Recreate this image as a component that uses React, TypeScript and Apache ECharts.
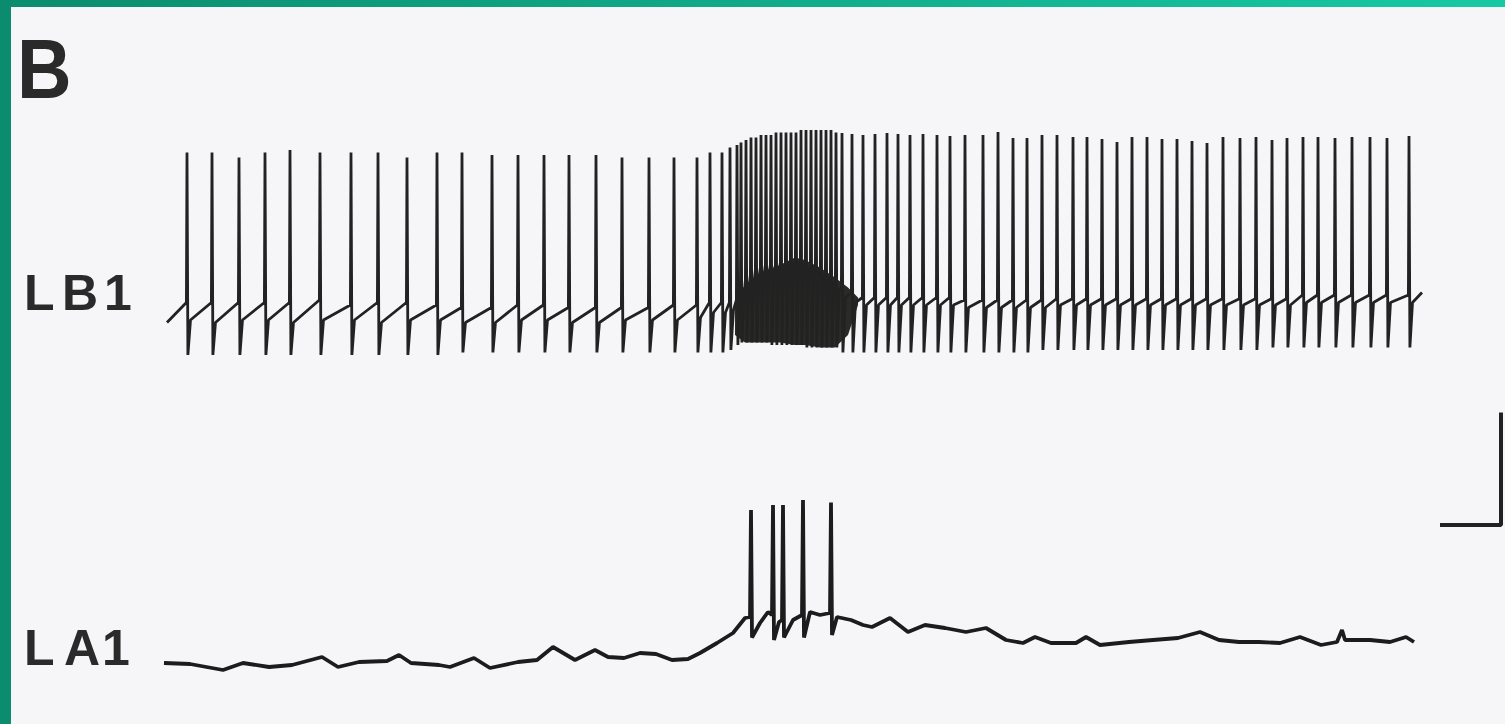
import React, { useEffect, useRef } from "react";
import * as echarts from "echarts";

// ---------------- LB1 trace (time units, mV) ----------------
const lb1SpikeTimes = [
  187, 212, 239, 265, 290, 320, 351, 378, 407, 437, 462, 492, 518, 544, 569, 596, 622, 649, 674, 697,
  710, 722, 730, 737,
  741, 746, 751, 756, 761, 766, 771, 776, 781, 786, 791, 796, 801, 806, 811, 816, 821, 826, 831, 836,
  842, 852, 863, 875, 887, 898, 910, 923, 937, 950, 965, 983, 998, 1013, 1027, 1042, 1057, 1073, 1087, 1102,
  1117, 1132, 1147, 1162, 1177, 1192, 1207, 1223, 1240, 1256, 1272, 1287, 1303, 1318, 1335, 1352, 1370, 1387, 1409,
];
const lb1PeakMv = [
  17, 17, 15, 17, 18, 17, 17, 17, 15, 17, 17, 16, 16, 16, 16, 16, 15, 15, 15, 15,
  17, 17, 19, 20,
  21, 22, 23, 23, 24, 24, 24, 25, 25, 25, 25, 25, 26, 26, 26, 26, 26, 26, 26, 25,
  24.8, 24.4, 24, 24.4, 24.8, 24.4, 24, 24.4, 24, 23.6, 24, 24, 25.2, 22.8, 22.8, 24, 24, 23.2, 23.2, 22.4,
  21.2, 23.2, 23.2, 22.4, 22.4, 21.6, 20.8, 23.2, 22.8, 23.2, 22, 22.8, 23.2, 23.2, 22.8, 23.2, 23.2, 22.8, 23.6,
];
const lb1TroughMv = [
  -64, -64, -64, -64, -64, -64, -64, -64, -64, -64, -63, -63, -63, -63, -63, -63, -63, -63, -63, -63,
  -63, -63, -62, -60,
  -59, -59, -59, -59, -59, -59, -60, -60, -60, -60, -60, -60, -60, -61, -61, -61, -61, -61, -61, -61,
  -63, -63, -63, -63, -63, -63, -63, -63, -63, -63, -63, -63, -63, -63, -63, -62, -62, -62, -62, -62,
  -62, -62, -62, -62, -62, -62, -62, -62, -62, -62, -61, -61, -61, -61, -61, -61, -61, -61, -61,
];
const lb1ThresholdMv = [
  -43, -43, -43, -43, -43, -42, -44, -43, -43, -44, -45, -45, -44, -44, -45, -45, -45, -45, -44, -44,
  -43, -43, -43, -42,
  -38, -34, -32, -30, -29, -28, -28, -28, -27, -27, -26, -26, -26, -27, -28, -28, -29, -31, -32, -34,
  -37, -39, -41, -41, -41, -41, -41, -41, -41, -41, -42, -42, -42, -42, -42, -42, -41.5, -41.5, -41.5, -41.5,
  -41.5, -41.5, -41.5, -41.5, -41.5, -41.5, -41.5, -41.5, -41.5, -41.5, -41.5, -41.5, -40, -40, -40, -40, -40, -40, -40,
];
const lb1ResetMv = [
  -50, -51, -50, -50, -51, -50, -50, -51, -50, -50, -51, -51, -50, -50, -51, -51, -50, -50, -50, -49,
  -47, -47, -46, -44,
  -42, -38, -36, -34, -33, -32, -32, -32, -31, -31, -30, -30, -30, -31, -32, -32, -33, -35, -36, -38,
  -41, -43, -44, -44, -44, -44, -44, -44, -44, -44, -45, -45, -45, -45, -45, -45, -44, -44, -44, -44,
  -44, -44, -44, -44, -44, -44, -44, -44, -44, -44, -44, -44, -43, -43, -43, -43, -43, -43, -43,
];
const lb1Start = [167, -51];
const lb1End = [1422, -39];

// dense burst envelope in LB1
const burstTimes = [735, 745, 760, 780, 795, 805, 820, 835, 848, 858];
const burstUpperMv = [-42, -36, -31, -28, -25, -26, -29, -33, -37, -41];
const burstLowerMv = [-56, -59, -59, -59, -60, -60, -61, -61, -56, -44];

// ---------------- LA1 trace ----------------
const la1Times = [
  164, 190, 223, 243, 269, 292, 322, 338, 359, 387, 399, 411, 439, 450, 474, 490, 518, 537, 553, 575,
  595, 608, 624, 640, 656, 672, 688, 700, 717, 733, 745, 750, 760, 768, 772, 779, 782, 793, 802, 810,
  820, 830, 837, 851, 863, 872, 890, 908, 925, 945, 966, 986, 1006, 1023, 1035, 1051, 1076, 1086, 1100, 1129,
  1153, 1178, 1200, 1219, 1239, 1259, 1280, 1300, 1321, 1337, 1342, 1345, 1370, 1390, 1406, 1414,
];
const la1Mv = [
  -65.2, -65.6, -68, -65.2, -66.8, -66, -62.8, -66.8, -64.8, -64.4, -62, -65.2, -66, -66.8, -63.2, -67.2, -64.8, -64, -58.8, -64,
  -60, -62.8, -63.2, -61.2, -61.6, -64, -63.6, -61.2, -57.2, -53.2, -47.2, -46.8, -49.2, -44.8, -46, -48.8, -48, -48, -46, -44.8,
  -46, -45.2, -46.8, -48, -50, -50.8, -47.2, -52.8, -50, -51.2, -52.8, -51.2, -56, -57.2, -54.8, -57.2, -57.2, -54.8, -58, -56.8,
  -56, -55.2, -52.8, -56, -56.8, -56.8, -57.2, -54.8, -58, -56.8, -52, -56, -56, -56.8, -54.8, -56.8,
];
const la1SpikeTimes = [751, 773, 783, 803, 831];
const la1SpikePeakMv = [-4, -2, -2, 0, -1];
const la1SpikeTroughMv = [-55, -56, -55, -55, -54];

// calibration bar (drawn in LA1 coordinates)
const scaleBarTimes = [1440, 1501, 1501];
const scaleBarMv = [-10, -10, 35];

const INK = "#222222";

function buildLb1(): number[][] {
  const pts: number[][] = [lb1Start];
  const n = lb1SpikeTimes.length;
  for (let i = 0; i < n; i++) {
    const t = lb1SpikeTimes[i];
    const next = i + 1 < n ? lb1SpikeTimes[i + 1] : lb1End[0];
    pts.push([t - 0.6, lb1ThresholdMv[i]]);
    pts.push([t, lb1PeakMv[i]]);
    pts.push([t + 0.9, lb1TroughMv[i]]);
    pts.push([t + Math.min(3.5, (next - t) * 0.55), lb1ResetMv[i]]);
  }
  pts.push(lb1End);
  return pts;
}

function buildLa1(): number[][] {
  const pts: number[][] = la1Times.map((t, i) => [t, la1Mv[i]]);
  la1SpikeTimes.forEach((t, i) => {
    pts.push([t, la1SpikePeakMv[i]]);
    pts.push([t + 1, la1SpikeTroughMv[i]]);
  });
  pts.sort((a, b) => a[0] - b[0]);
  return pts;
}

export default function App() {
  const ref = useRef<HTMLDivElement>(null);

  useEffect(() => {
    if (!ref.current) return;
    const chart = echarts.init(ref.current, undefined, { renderer: "svg" });
    const font = "'Liberation Sans', Arial, sans-serif";
    const label = (text: string, x: number, y: number, size: number, scaleX = 1) => ({
      type: "text",
      x,
      y,
      scaleX,
      style: {
        text,
        fill: "#2a2a2a",
        font: `bold ${size}px ${font}`,
        verticalAlign: "middle",
        align: "left",
      },
    });
    chart.setOption({
      animation: false,
      backgroundColor: "#f6f6f8",
      grid: [
        { left: 0, top: 120, width: 1505, height: 250 },
        { left: 0, top: 400, width: 1505, height: 300 },
      ],
      xAxis: [
        { type: "value", gridIndex: 0, min: 0, max: 1505, show: false },
        { type: "value", gridIndex: 1, min: 0, max: 1505, show: false },
      ],
      yAxis: [
        { type: "value", gridIndex: 0, min: -70, max: 30, show: false },
        { type: "value", gridIndex: 1, min: -80, max: 40, show: false },
      ],
      series: [
        {
          name: "LB1 burst",
          type: "custom",
          xAxisIndex: 0,
          yAxisIndex: 0,
          data: burstTimes.map((t, i) => [t, burstUpperMv[i], burstLowerMv[i]]),
          encode: { x: 0, y: [1, 2] },
          renderItem: (params: any, api: any) => {
            if (params.dataIndex !== 0) return null;
            const pts: number[][] = [];
            for (let i = 0; i < burstTimes.length; i++) pts.push(api.coord([burstTimes[i], burstUpperMv[i]]));
            for (let i = burstTimes.length - 1; i >= 0; i--) pts.push(api.coord([burstTimes[i], burstLowerMv[i]]));
            return { type: "polygon", shape: { points: pts }, style: { fill: "#2a2a26" } };
          },
          z: 1,
        },
        {
          name: "LB1",
          type: "line",
          xAxisIndex: 0,
          yAxisIndex: 0,
          data: buildLb1(),
          showSymbol: false,
          lineStyle: { color: INK, width: 2.8 },
          z: 2,
        },
        {
          name: "LA1",
          type: "line",
          xAxisIndex: 1,
          yAxisIndex: 1,
          data: buildLa1(),
          showSymbol: false,
          lineStyle: { color: "#1c1c1c", width: 3.8 },
          z: 2,
        },
        {
          name: "scale",
          type: "line",
          xAxisIndex: 1,
          yAxisIndex: 1,
          data: scaleBarTimes.map((t, i) => [t, scaleBarMv[i]]),
          showSymbol: false,
          lineStyle: { color: INK, width: 4 },
          z: 2,
        },
      ],
      graphic: [
        { type: "rect", shape: { x: 0, y: 0, width: 11, height: 724 }, style: { fill: "#0b8c6e" } },
        {
          type: "rect",
          shape: { x: 0, y: 0, width: 1505, height: 7 },
          style: {
            fill: new echarts.graphic.LinearGradient(0, 0, 1, 0, [
              { offset: 0, color: "#0b8c6e" },
              { offset: 1, color: "#17c9a3" },
            ]),
          },
        },
        label("B", 17, 69, 84, 0.9),
        label("L", 24, 293, 50),
        label("B", 62, 293, 50),
        label("1", 104, 293, 50),
        label("L", 24, 648, 50),
        label("A", 64, 648, 50),
        label("1", 102, 648, 50),
      ],
    });
    return () => chart.dispose();
  }, []);

  return (
    <div
      ref={ref}
      style={{ position: "absolute", left: 0, top: 0, width: 1505, height: 724 }}
    />
  );
}
